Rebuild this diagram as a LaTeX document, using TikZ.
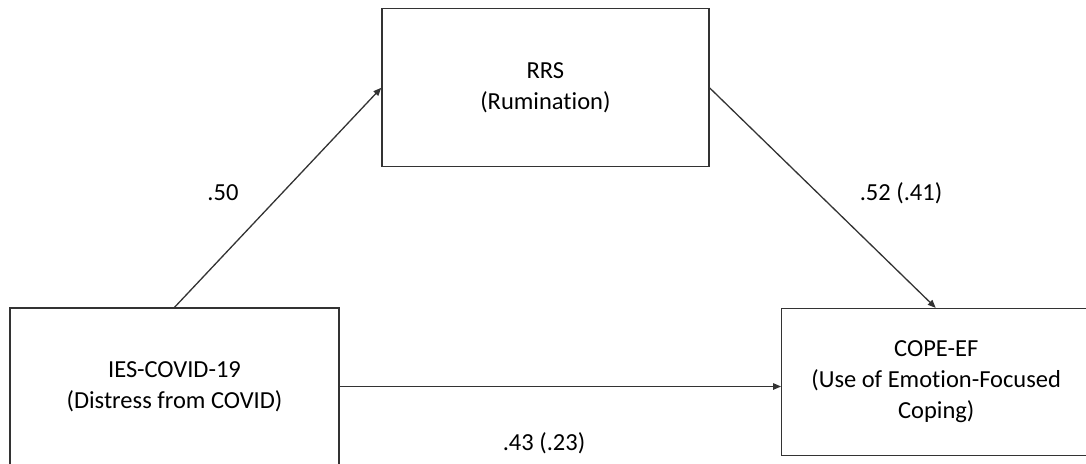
\documentclass[tikz,border=0pt]{standalone}
\usepackage{fontspec}
\setmainfont{Carlito}[Ligatures=CommonOff]
\usetikzlibrary{arrows.meta}

\tikzset{
    varbox/.style = {draw=black!80, line width=1.3pt, align=center, inner sep=0pt,
                     font=\fontsize{24.5}{31}\selectfont, text=black},
    path/.style   = {draw=black!80, line width=1.3pt, -{Triangle[length=8pt,width=6.5pt]}},
    coef/.style   = {font=\fontsize{24.5}{30}\selectfont, text=black}
}

\begin{document}
\begin{tikzpicture}[x=1pt, y=-1pt]
            \useasboundingbox (0,0) rectangle (1086,463);
            \clip (0,0) rectangle (1086,463);
            
            \node[varbox, minimum width=327pt, minimum height=158pt] (rrs) at (545.4,87.8) {RRS\\(Rumination)};
            \node[varbox, minimum width=329pt, minimum height=157pt] (ies) at (174.5,386.5) {IES-COVID-19\\(Distress from COVID)};
            \node[varbox, minimum width=316pt, minimum height=147pt] (cope) at (939.7,382) {\raisebox{-5pt}{\parbox{300pt}{\centering COPE-EF\\(Use of Emotion-Focused\\Coping)}}\hspace{7pt}};
            
            \draw[path] (ies.north) -- (rrs.west);
            \draw[path] (rrs.east) -- ([xshift=-4pt]cope.north);
            \draw[path] (ies.east) -- (ies.east -| cope.west);
            
            \node[coef] (a) at (223,193) {.50};
            \node[coef] (b) at (901,193) {.52 (.41)};
            \node[coef] (c) at (544,443) {.43 (.23)};
        \end{tikzpicture}
\end{document}
